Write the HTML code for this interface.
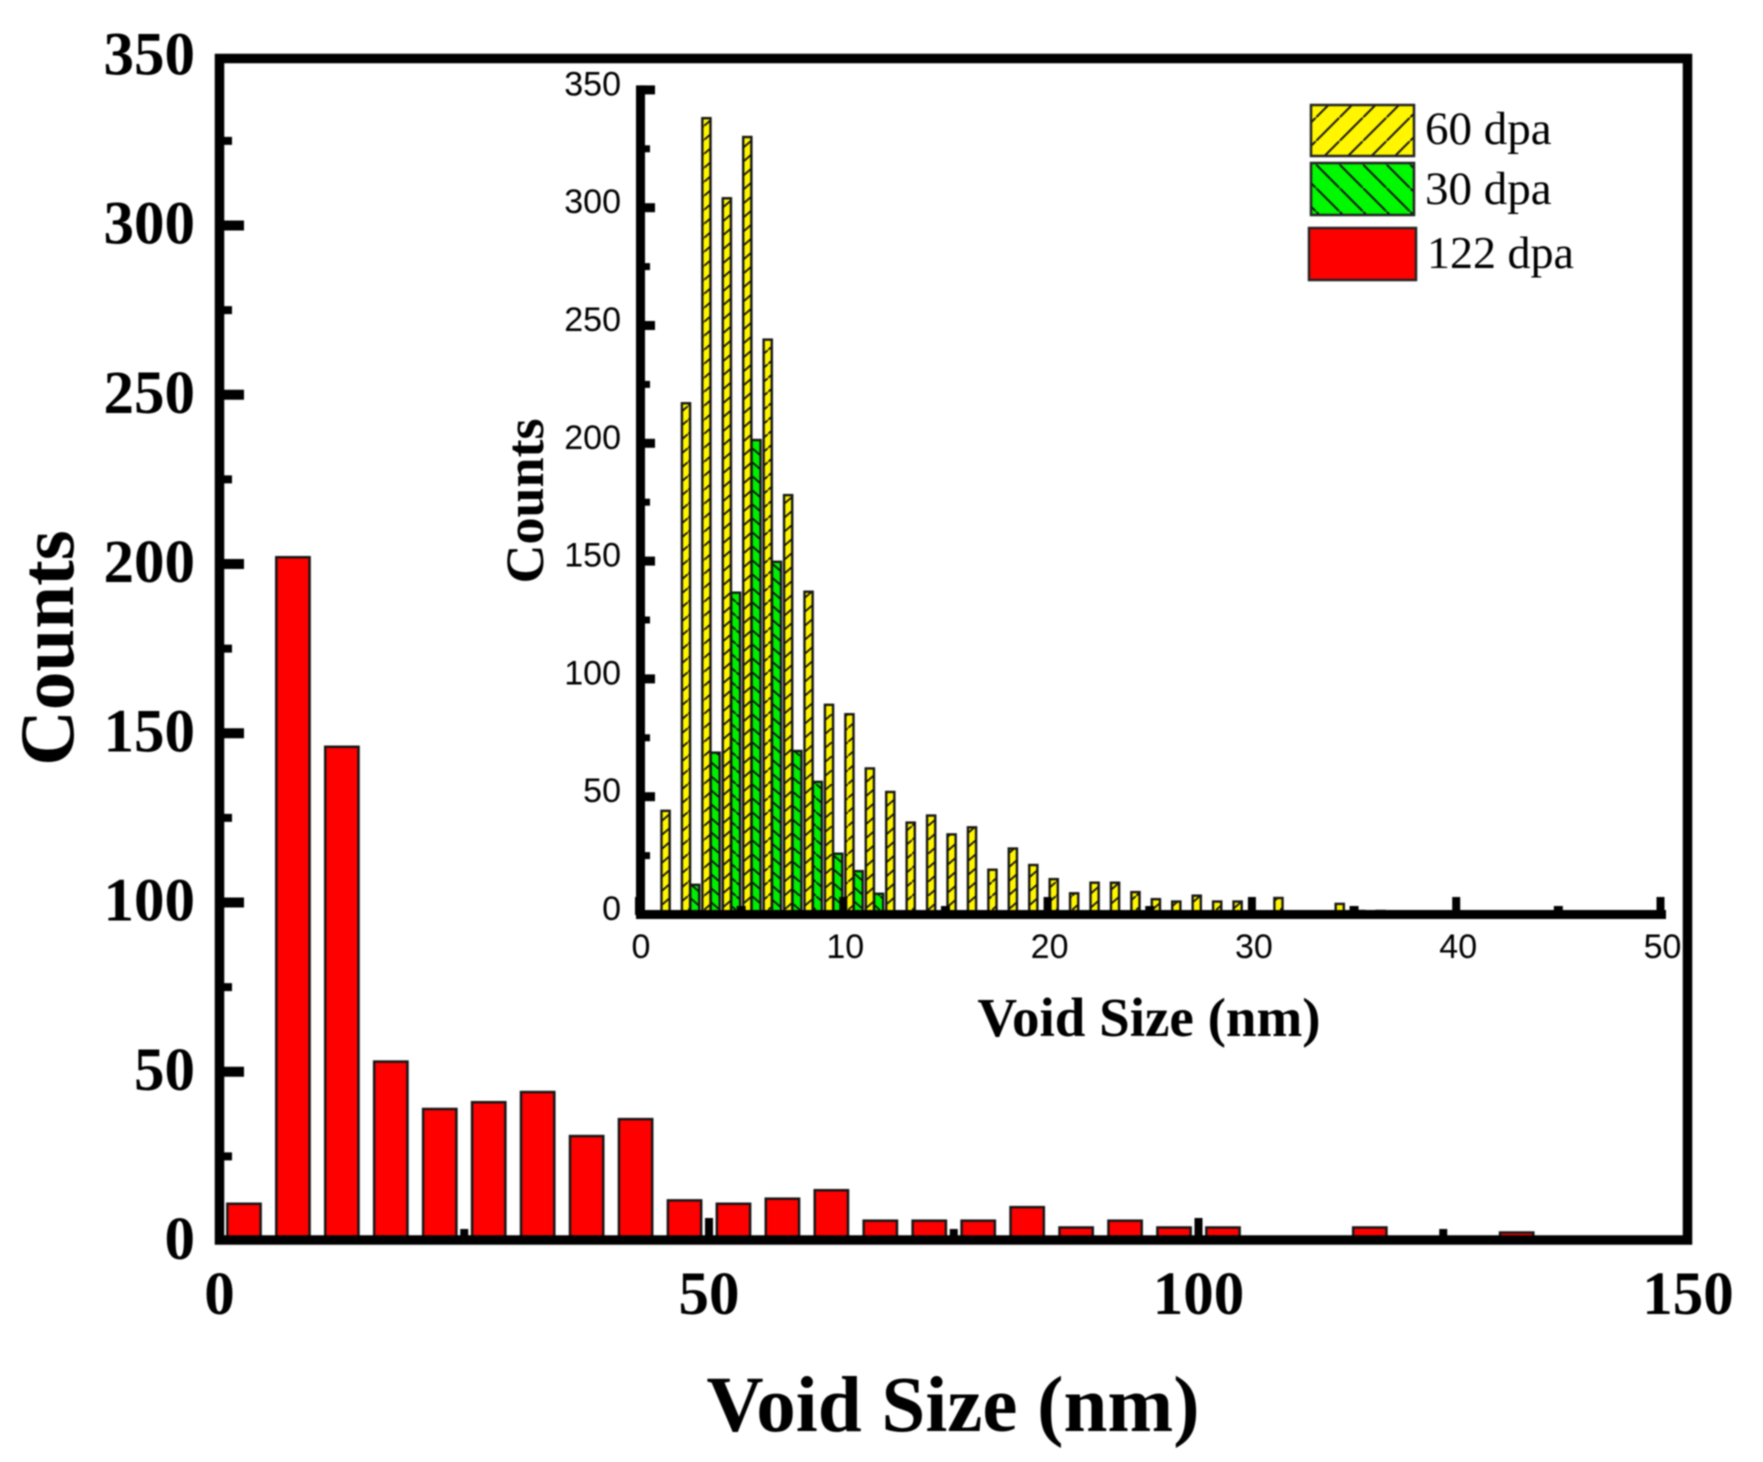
<!DOCTYPE html>
<html lang="en">
<head>
<meta charset="utf-8">
<title>Void size distribution</title>
<style>
  html, body { margin: 0; padding: 0; background: #fff; }
  svg { display: block; filter: blur(0.8px); }
  .serif-bold { font-family: "Liberation Serif", serif; font-weight: bold; fill: #000; }
  .sans { font-family: "Liberation Sans", sans-serif; fill: #000; }
  .serif { font-family: "Liberation Serif", serif; fill: #000; }
</style>
</head>
<body>
<svg id="chart" xmlns="http://www.w3.org/2000/svg" width="1763" height="1462" viewBox="0 0 1763 1462">
  <defs>
    <pattern id="bar-hatch-yellow" patternUnits="userSpaceOnUse" width="16" height="14">
      <rect width="16" height="14" fill="#fff600"></rect>
      <path d="M-2 15.75 L18 -1.75" stroke="#111" stroke-width="1.8"></path>
    </pattern>
    <pattern id="bar-hatch-green" patternUnits="userSpaceOnUse" width="16" height="14">
      <rect width="16" height="14" fill="#00f000"></rect>
      <path d="M-2 -1.75 L18 15.75" stroke="#111" stroke-width="1.8"></path>
    </pattern>
    <pattern id="legend-hatch-yellow" patternUnits="userSpaceOnUse" width="23.5" height="23.5">
      <rect width="23.5" height="23.5" fill="#fff600"></rect>
      <path d="M-2 25.5 L25.5 -2" stroke="#111" stroke-width="2"></path>
    </pattern>
    <pattern id="legend-hatch-green" patternUnits="userSpaceOnUse" width="23.5" height="23.5">
      <rect width="23.5" height="23.5" fill="#00f800"></rect>
      <path d="M-2 -2 L25.5 25.5" stroke="#111" stroke-width="2"></path>
    </pattern>
  </defs>
  <g id="main-bars"></g>
  <g id="inset-bars"></g>
  <g id="main-axes"></g>
  <g id="inset-axes"></g>

  <text class="serif-bold" x="953" y="1431" font-size="79" text-anchor="middle">Void Size (nm)</text>
  <text class="serif-bold" transform="translate(73 648) rotate(-90)" font-size="77" text-anchor="middle">Counts</text>
  <text class="serif-bold" x="1149" y="1036" font-size="55" text-anchor="middle">Void Size (nm)</text>
  <text class="serif-bold" transform="translate(543 501) rotate(-90)" font-size="54" text-anchor="middle">Counts</text>

  <g>
    <g>
      <rect x="1311" y="105" width="103" height="51" fill="url(#legend-hatch-yellow)" stroke="#222" stroke-width="2.5"></rect>
      <text class="serif" x="1425" y="144" font-size="47">60 dpa</text>
    </g>
    <g>
      <rect x="1311" y="163" width="103" height="52" fill="url(#legend-hatch-green)" stroke="#222" stroke-width="2.5"></rect>
      <text class="serif" x="1425" y="204" font-size="47">30 dpa</text>
    </g>
    <g>
      <rect x="1309" y="228" width="107" height="52" fill="#ff0000" stroke="#222" stroke-width="2.5"></rect>
      <text class="serif" x="1427" y="268" font-size="46">122 dpa</text>
    </g>
  </g>
</svg>
<script>
// ---- Main plot data (122 dpa) ----
const mainBinCenters = [2.5, 7.5, 12.5, 17.5, 22.5, 27.5, 32.5, 37.5, 42.5, 47.5, 52.5, 57.5, 62.5, 67.5, 72.5, 77.5, 82.5, 87.5, 92.5, 97.5, 102.5, 107.5, 112.5, 117.5, 122.5, 127.5, 132.5];
const counts122dpa = [11, 202, 146, 53, 39, 41, 44, 31, 36, 12, 11, 12.5, 15, 6, 6, 6, 10, 4, 6, 4, 4, 0, 0, 4, 0, 0, 2.5];
const mainXTickLabels = [0, 50, 100, 150];
const mainXMinorTicks = [25, 75, 125];
const mainYTickLabels = [0, 50, 100, 150, 200, 250, 300, 350];
const mainYMinorTicks = [25, 75, 125, 175, 225, 275, 325];

// ---- Inset data (60 dpa and 30 dpa) ----
const sizes60dpa = [1.3, 2.3, 3.3, 4.3, 5.3, 6.3, 7.3, 8.3, 9.3, 10.3, 11.3, 12.3, 13.3, 14.3, 15.3, 16.3, 17.3, 18.3, 19.3, 20.3, 21.3, 22.3, 23.3, 24.3, 25.3, 26.3, 27.3, 28.3, 29.3, 30.3, 31.3, 32.3, 33.3, 34.3, 35.3, 36.3];
const counts60dpa = [44, 217, 338, 304, 330, 244, 178, 137, 89, 85, 62, 52, 39, 42, 34, 37, 19, 28, 21, 15, 9, 13.5, 13.5, 9.5, 6.5, 5.5, 8, 5.5, 5.5, 0, 7, 0, 1, 4.5, 1.5, 1.5];
const sizes30dpa = [2.73, 3.73, 4.73, 5.73, 6.73, 7.73, 8.73, 9.73, 10.73, 11.73];
const counts30dpa = [12.6, 68.7, 136.6, 201.4, 149.7, 69.4, 56.3, 25.8, 18.4, 8.8];
const insetXTickLabels = [0, 10, 20, 30, 40, 50];
const insetXMinorTicks = [5, 15, 25, 35, 45];
const insetYTickLabels = [0, 50, 100, 150, 200, 250, 300, 350];
const insetYMinorTicks = [25, 75, 125, 175, 225, 275, 325];

// ---- Axis functions ----
function mainX(v) { return 219.5 + v * 9.79; }
function mainY(v) { return 1241 - v * 3.385; }
function insetX(v) { return 639 + v * 20.43; }
function insetY(v) { return 914.5 - v * 2.356; }

const SVG_NS = 'http://www.w3.org/2000/svg';
const mainBars = document.getElementById('main-bars');
const insetBars = document.getElementById('inset-bars');
const mainAxes = document.getElementById('main-axes');
const insetAxes = document.getElementById('inset-axes');

function makeRect(parent, x, y, w, h, fill, stroke, strokeWidth) {
  const r = document.createElementNS(SVG_NS, 'rect');
  r.setAttribute('x', x);
  r.setAttribute('y', y);
  r.setAttribute('width', Math.max(0, w));
  r.setAttribute('height', Math.max(0, h));
  r.setAttribute('fill', fill);
  if (stroke) {
    r.setAttribute('stroke', stroke);
    r.setAttribute('stroke-width', strokeWidth);
  }
  parent.appendChild(r);
  return r;
}

function makeText(parent, x, y, cls, size, anchor, content) {
  const t = document.createElementNS(SVG_NS, 'text');
  t.setAttribute('x', x);
  t.setAttribute('y', y);
  t.setAttribute('class', cls);
  t.setAttribute('font-size', size);
  t.setAttribute('text-anchor', anchor);
  t.textContent = content;
  parent.appendChild(t);
  return t;
}

// ---- Main bars ----
mainBinCenters.forEach(function (c, i) {
  const x0 = mainX(c - 1.7);
  const x1 = mainX(c + 1.7);
  const el = makeRect(mainBars, x0, mainY(counts122dpa[i]), x1 - x0, mainY(0) - mainY(counts122dpa[i]), '#ff0000', '#151515', 2.5);
  
  
});

// ---- Inset bars: green beneath, yellow above ----
sizes30dpa.forEach(function (c, i) {
  const x0 = insetX(c - 0.22);
  const x1 = insetX(c + 0.22);
  const el = makeRect(insetBars, x0, insetY(counts30dpa[i]), x1 - x0, insetY(0) - insetY(counts30dpa[i]), 'url(#bar-hatch-green)', '#151515', 2.4);
  
  
});
sizes60dpa.forEach(function (c, i) {
  const x0 = insetX(c - 0.2);
  const x1 = insetX(c + 0.2);
  const el = makeRect(insetBars, x0, insetY(counts60dpa[i]), x1 - x0, insetY(0) - insetY(counts60dpa[i]), 'url(#bar-hatch-yellow)', '#151515', 2.4);
  
  
});

// ---- Main axes ----
const mainFrame = makeRect(mainAxes, 219.5, 58.5, 1468, 1181.5, 'none', '#000', 9.5);



mainYTickLabels.forEach(function (v) {
  if (v > 0 && v < 350) {
    const tick = makeRect(mainAxes, 220, mainY(v) - 5, 24, 10, '#000');
    
    
  }
  const label = makeText(mainAxes, 195, mainY(v) + 18, 'serif-bold', 61, 'end', String(v));
  
  
});
mainYMinorTicks.forEach(function (v) {
  const tick = makeRect(mainAxes, 220, mainY(v) - 4, 12, 8, '#000');
  
  
});
mainXTickLabels.forEach(function (v) {
  const tick = makeRect(mainAxes, mainX(v) - 4, 1218, 8, 24, '#000');
  
  
  const label = makeText(mainAxes, mainX(v), 1314, 'serif-bold', 61, 'middle', String(v));
  
  
});
mainXMinorTicks.forEach(function (v) {
  const tick = makeRect(mainAxes, mainX(v) - 4, 1229, 8, 12, '#000');
  
  
});

// ---- Inset axes ----
const insetYLine = makeRect(insetAxes, 636, insetY(350) - 4.5, 9, insetY(0) - insetY(350) + 9, '#000');


const insetXLine = makeRect(insetAxes, 636, 910, 1030, 9, '#000');



insetYTickLabels.forEach(function (v) {
  const tick = makeRect(insetAxes, 640, insetY(v) - 4.5, 15, 9, '#000');
  
  
  const label = makeText(insetAxes, 621, insetY(v) + 5.5, 'sans', 34, 'end', String(v));
  
  
});
insetYMinorTicks.forEach(function (v) {
  const tick = makeRect(insetAxes, 640, insetY(v) - 3.5, 10, 7, '#000');
  
  
});
insetXTickLabels.forEach(function (v) {
  const tick = makeRect(insetAxes, insetX(v) - 4, 897, 8, 18, '#000');
  
  
  const label = makeText(insetAxes, insetX(v) + 2, 958, 'sans', 34, 'middle', String(v));
  
  
});
insetXMinorTicks.forEach(function (v) {
  const tick = makeRect(insetAxes, insetX(v) - 4.5, 906, 9, 8, '#000');
  
  
});
</script>
</body>
</html>
